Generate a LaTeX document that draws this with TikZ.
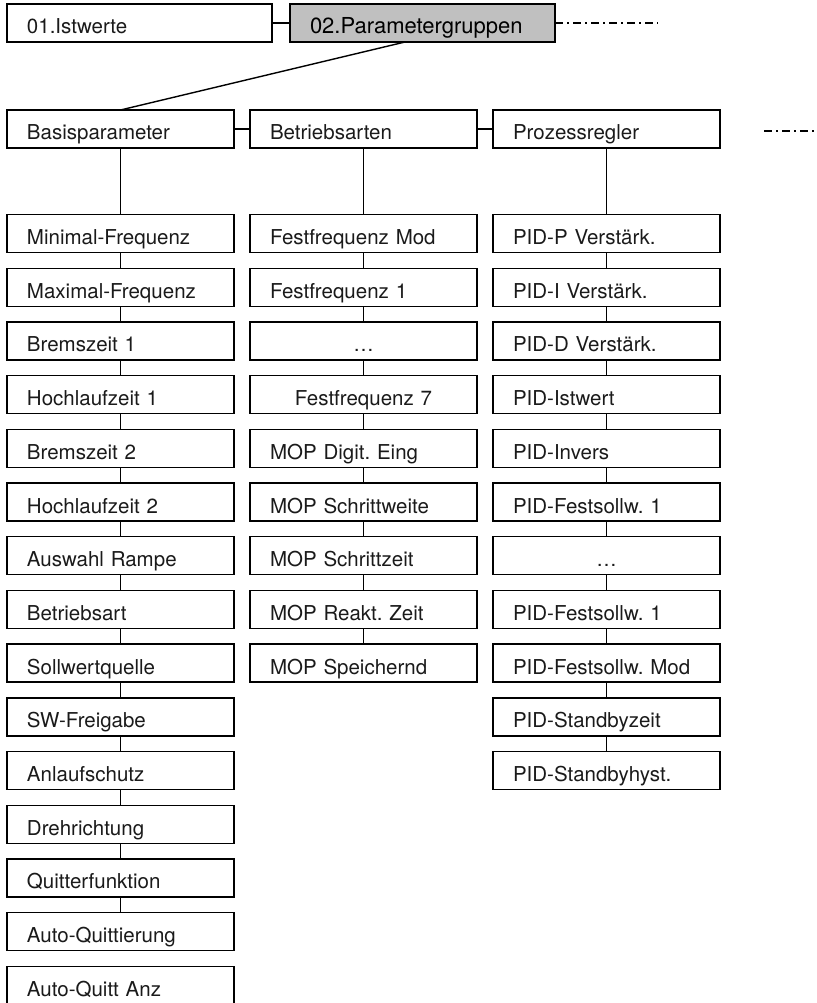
\documentclass[tikz,border=0pt]{standalone}
\usepackage{fontspec}
\setmainfont{TeX Gyre Heros}
\usetikzlibrary{positioning}
\definecolor{cSel}{HTML}{C0C0C0}
\definecolor{cText}{HTML}{1A1A1A}
\frenchspacing
\tikzset{
  entry/.style={
    rectangle, draw=black, line width=1.4pt, outer sep=0pt,
    minimum height=38pt, text width=187pt, inner xsep=20pt,
    align=left, font=\fontsize{20.5}{24}\selectfont, text=cText,
    text height=22pt, text depth=0pt
  },
  entrymid/.style={entry, align=center},
  entrywide/.style={entry, text width=225pt},
  sel/.style={entrywide, fill=cSel, text=black,
    font=\fontsize{22}{26}\selectfont},
  conn/.style={line width=1.4pt},
  more/.style={line width=1.2pt, dash pattern=on 8pt off 4pt on 2pt off 4pt}
}
\begin{document}
\begin{tikzpicture}[x=1pt, y=-1pt, node distance=15.7pt]
\useasboundingbox (0,0) rectangle (816,1003);

%% ── Top row ──────────────────────────────────────────────────────
\node[entrywide, anchor=north west] (istw) at (7,4) {01.Istwerte};
\node[sel, right=18pt of istw] (pgrp) {02.Parametergruppen};

%% ── Parameter groups ─────────────────────────────────────────────
\node[entry, anchor=north west] (basis) at (7,110) {Basisparameter};
\node[entry, right=16pt of basis] (betrieb) {Betriebsarten};
\node[entry, right=16pt of betrieb] (prozess) {Prozessregler};

%% ── Basisparameter ───────────────────────────────────────────────
\node[entry, below=66.5pt of basis] (bp1) {Minimal-Frequenz};
\node[entry, below=of bp1] (bp2) {Maximal-Frequenz};
\node[entry, below=of bp2] (bp3) {Bremszeit 1};
\node[entry, below=of bp3] (bp4) {Hochlaufzeit 1};
\node[entry, below=of bp4] (bp5) {Bremszeit 2};
\node[entry, below=of bp5] (bp6) {Hochlaufzeit 2};
\node[entry, below=of bp6] (bp7) {Auswahl Rampe};
\node[entry, below=of bp7] (bp8) {Betriebsart};
\node[entry, below=of bp8] (bp9) {Sollwertquelle};
\node[entry, below=of bp9] (bp10) {SW-Freigabe};
\node[entry, below=of bp10] (bp11) {Anlaufschutz};
\node[entry, below=of bp11] (bp12) {Drehrichtung};
\node[entry, below=of bp12] (bp13) {Quitterfunktion};
\node[entry, below=of bp13] (bp14) {Auto-Quittierung};
\node[entry, below=of bp14] (bp15) {Auto-Quitt Anz};

%% ── Betriebsarten ────────────────────────────────────────────────
\node[entry, below=66.5pt of betrieb] (ba1) {Festfrequenz Mod};
\node[entry, below=of ba1] (ba2) {Festfrequenz 1};
\node[entrymid, below=of ba2] (ba3) {…};
\node[entrymid, below=of ba3] (ba4) {Festfrequenz 7};
\node[entry, below=of ba4] (ba5) {MOP Digit. Eing};
\node[entry, below=of ba5] (ba6) {MOP Schrittweite};
\node[entry, below=of ba6] (ba7) {MOP Schrittzeit};
\node[entry, below=of ba7] (ba8) {MOP Reakt. Zeit};
\node[entry, below=of ba8] (ba9) {MOP Speichernd};

%% ── Prozessregler ────────────────────────────────────────────────
\node[entry, below=66.5pt of prozess] (pr1) {PID-P Verstärk.};
\node[entry, below=of pr1] (pr2) {PID-I Verstärk.};
\node[entry, below=of pr2] (pr3) {PID-D Verstärk.};
\node[entry, below=of pr3] (pr4) {PID-Istwert};
\node[entry, below=of pr4] (pr5) {PID-Invers};
\node[entry, below=of pr5] (pr6) {PID-Festsollw. 1};
\node[entrymid, below=of pr6] (pr7) {…};
\node[entry, below=of pr7] (pr8) {PID-Festsollw. 1};
\node[entry, below=of pr8] (pr9) {PID-Festsollw. Mod};
\node[entry, below=of pr9] (pr10) {PID-Standbyzeit};
\node[entry, below=of pr10] (pr11) {PID-Standbyhyst.};

%% ── Connectors ───────────────────────────────────────────────────
\draw[conn] (istw) -- (pgrp);
\draw[conn] ([xshift=-17.5pt]pgrp.south) -- (basis.north);
\draw[conn] (basis) -- (betrieb);
\draw[conn] (betrieb) -- (prozess);

\draw[conn] (basis) -- (bp1);
\draw[conn] (bp1) -- (bp2) (bp2) -- (bp3) (bp3) -- (bp4) (bp4) -- (bp5)
  (bp5) -- (bp6) (bp6) -- (bp7) (bp7) -- (bp8) (bp8) -- (bp9)
  (bp9) -- (bp10) (bp10) -- (bp11) (bp11) -- (bp12) (bp12) -- (bp13)
  (bp13) -- (bp14);

\draw[conn] (betrieb) -- (ba1);
\draw[conn] (ba1) -- (ba2) (ba2) -- (ba3) (ba3) -- (ba4) (ba4) -- (ba5)
  (ba5) -- (ba6) (ba6) -- (ba7) (ba7) -- (ba8) (ba8) -- (ba9);

\draw[conn] (prozess) -- (pr1);
\draw[conn] (pr1) -- (pr2) (pr2) -- (pr3) (pr3) -- (pr4) (pr4) -- (pr5)
  (pr5) -- (pr6) (pr6) -- (pr7) (pr7) -- (pr8) (pr8) -- (pr9)
  (pr9) -- (pr10) (pr10) -- (pr11);

%% ── Continuation ─────────────────────────────────────────────────
\coordinate (pgrpend) at ([xshift=103pt]pgrp.east);
\draw[more] (pgrp.east) -- (pgrpend);

\coordinate (nextA) at ([xshift=44pt, yshift=-2pt]prozess.east);
\coordinate (nextB) at ([xshift=100pt, yshift=-2pt]prozess.east);
\draw[more] (nextA) -- (nextB);

\end{tikzpicture}
\end{document}
